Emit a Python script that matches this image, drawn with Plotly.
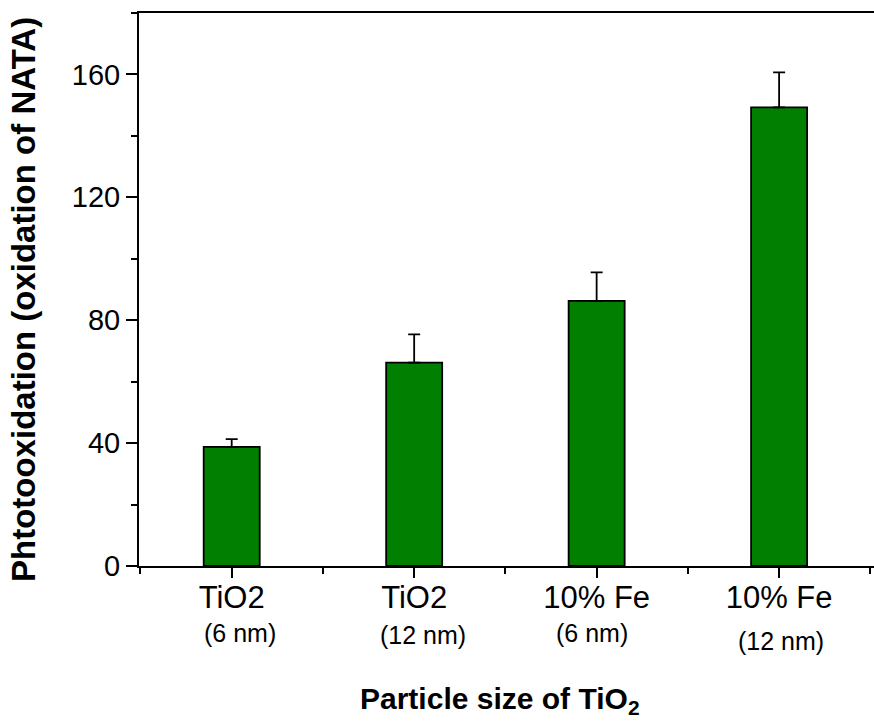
import plotly.graph_objects as go

categories = ["TiO2", "TiO2", "10% Fe", "10% Fe"]
sizes = ["(6 nm)", "(12 nm)", "(6 nm)", "(12 nm)"]
values = [38.8, 66.2, 86.3, 149.3]
errors = [2.5, 9.2, 9.3, 11.4]
y_ticks = [0, 40, 80, 120, 160]

xpos = list(range(len(categories)))

# layout-only nudges for the second label line (pixels)
sub_dx = [8, 9, -5, 2]
sub_dy = [0, 2, 0, 8]

FONT = "Liberation Sans, Arial, sans-serif"

fig = go.Figure()
fig.add_trace(go.Bar(
    x=xpos, y=values, width=0.307,
    marker=dict(color="#007F00", line=dict(color="black", width=1.8)),
    error_y=dict(type="data", array=errors, arrayminus=[0]*len(errors), symmetric=False,
                 color="black", thickness=1.8, width=6),
    showlegend=False,
))

for i, s in enumerate(sizes):
    fig.add_annotation(x=xpos[i], y=0, xref="x", yref="paper", text=s,
                       showarrow=False, yanchor="top", xanchor="center",
                       xshift=sub_dx[i], yshift=-51 - sub_dy[i],
                       font=dict(family=FONT, size=25, color="black"))

fig.add_annotation(x=0.491, y=0, xref="paper", yref="paper",
                   text="<b>Particle size of TiO<sub>2</sub></b>",
                   showarrow=False, yanchor="top", xanchor="center", yshift=-114,
                   font=dict(family=FONT, size=30, color="black"))

fig.add_annotation(x=0, y=0.481, xref="paper", yref="paper",
                   text="<b>Phtotooxidation (oxidation of NATA)</b>",
                   showarrow=False, textangle=-90, xanchor="center", yanchor="middle",
                   xshift=-116,
                   font=dict(family=FONT, size=33, color="black"))

fig.update_layout(
    width=874, height=722,
    margin=dict(l=139, r=0, t=13, b=156),
    plot_bgcolor="white", paper_bgcolor="white",
    font=dict(family=FONT, color="black"),
    xaxis=dict(range=[-0.508, 3.52], tickmode="array", tickvals=xpos, ticktext=categories,
               showline=True, linecolor="black", linewidth=2, mirror=True,
               ticks="outside", ticklen=10, tickwidth=2, tickcolor="black",
               tickfont=dict(family=FONT, size=31, color="black"),
               ticklabelstandoff=-7,
               showgrid=False, zeroline=False,
               minor=dict(tickmode="linear", tick0=-0.5, dtick=1, ticks="outside",
                          ticklen=6, tickwidth=2, tickcolor="black", showgrid=False)),
    yaxis=dict(range=[0, 180], tickmode="array", tickvals=y_ticks,
               showline=True, linecolor="black", linewidth=2, mirror=False,
               ticks="outside", ticklen=11, tickwidth=2, tickcolor="black",
               tickfont=dict(family=FONT, size=29, color="black"),
               ticklabelstandoff=0,
               showgrid=False, zeroline=False,
               minor=dict(tickmode="linear", tick0=20, dtick=40, ticks="outside",
                          ticklen=6, tickwidth=2, tickcolor="black", showgrid=False)),
)

fig.write_html("out.html", config={"displayModeBar": False},
               post_script="document.body.style.margin='0';document.body.style.overflow='hidden';")
